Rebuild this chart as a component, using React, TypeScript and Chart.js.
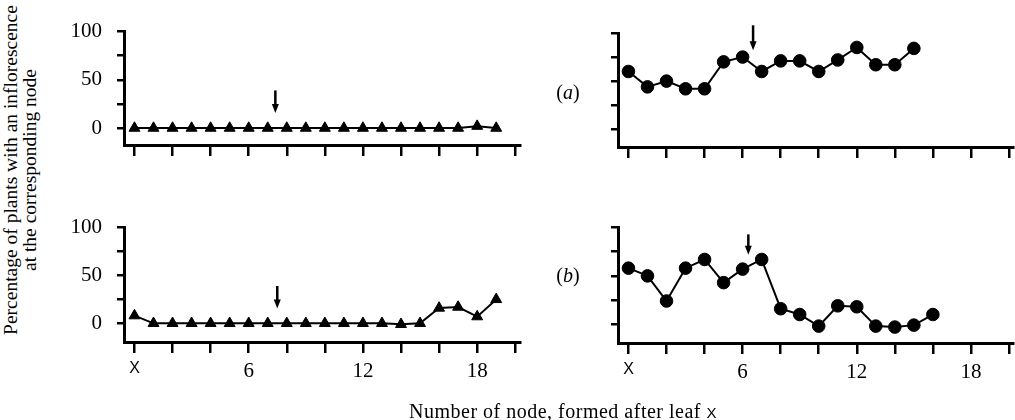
import React, { useEffect, useRef } from "react";
import { Chart, registerables } from "chart.js";

Chart.register(...registerables);

// ---- data ----
const nodesTop = [0, 1, 2, 3, 4, 5, 6, 7, 8, 9, 10, 11, 12, 13, 14, 15, 16, 17, 18, 19];
const panelATriangles = [0, 0, 0, 0, 0, 0, 0, 0, 0, 0, 0, 0, 0, 0, 0, 0, 0, 0, 2, 0];
const panelACircles = [60, 44, 50, 42, 42, 70, 75, 60, 71, 71, 60, 72, 85, 67, 67, 84];
const panelBTriangles = [8, 0, 0, 0, 0, 0, 0, 0, 0, 0, 0, 0, 0, 0, -1, 0, 16, 17, 7, 25];
const panelBCircles = [58, 50, 24, 58, 67, 43, 57, 67, 16, 10, -2, 19, 18, -2, -3, -1, 10];
const xTickValues = [0, 2, 4, 6, 8, 10, 12, 14, 16, 18, 20];
const xTickLabels: Record<number, string> = { 0: "X", 6: "6", 12: "12", 18: "18" };
const yTickValues = [0, 25, 50, 75, 100];
const yTickLabels: Record<number, string> = { 0: "0", 50: "50", 100: "100" };
// arrows: [node position, top value, tip value] per panel (TL, TR, BL, BR)
const arrowX = [7.4, 6.55, 7.5, 6.3];
const arrowTop = [39, 108, 39, 93];
const arrowTip = [15.5, 82, 15.5, 72];

const FONT = "'Liberation Serif', 'Times New Roman', serif";
const SANS = "'Liberation Sans', Arial, sans-serif";

const arrowPlugin = {
  id: "nodeArrow",
  afterDatasetsDraw(chart: any, _args: any, opts: any) {
    if (!opts || opts.x === undefined) return;
    const { ctx } = chart;
    const xs = chart.scales.x;
    const ys = chart.scales.y;
    const px = xs.getPixelForValue(opts.x);
    const pTop = ys.getPixelForValue(opts.top);
    const pTip = ys.getPixelForValue(opts.tip);
    ctx.save();
    ctx.strokeStyle = "#000";
    ctx.fillStyle = "#000";
    ctx.lineWidth = 2.5;
    ctx.beginPath();
    ctx.moveTo(px, pTop);
    ctx.lineTo(px, pTip - 6);
    ctx.stroke();
    ctx.beginPath();
    ctx.moveTo(px - 3.5, pTip - 9);
    ctx.lineTo(px + 3.5, pTip - 9);
    ctx.lineTo(px, pTip);
    ctx.closePath();
    ctx.fill();
    ctx.restore();
  },
};

type PanelProps = {
  values: number[];
  style: "triangle" | "circle";
  left: number;
  top: number;
  width: number;
  height: number;
  padTop: number;
  padRight: number;
  yAxisWidth: number;
  xAxisHeight: number;
  yMin: number;
  showY: boolean;
  showX: boolean;
  arrowIndex: number;
};

function Panel(p: PanelProps) {
  const ref = useRef<HTMLCanvasElement | null>(null);
  useEffect(() => {
    if (!ref.current) return;
    const chart = new Chart(ref.current, {
      type: "line",
      data: {
        datasets: [
          {
            data: p.values.map((v, i) => ({ x: nodesTop[i], y: v })),
            borderColor: "#000",
            backgroundColor: "#000",
            borderWidth: 2,
            pointStyle: p.style,
            pointRadius: p.style === "circle" ? 6.3 : 6.3,
            pointBackgroundColor: "#000",
            pointBorderColor: "#000",
            pointBorderWidth: 1,
            tension: 0,
            clip: false as any,
          },
        ],
      },
      options: {
        animation: false,
        responsive: false,
        devicePixelRatio: 1,
        layout: {
          autoPadding: false,
          padding: { top: p.padTop, right: p.padRight, left: 0, bottom: 0 },
        } as any,
        plugins: {
          legend: { display: false },
          tooltip: { enabled: false },
          nodeArrow: {
            x: arrowX[p.arrowIndex],
            top: arrowTop[p.arrowIndex],
            tip: arrowTip[p.arrowIndex],
          },
        } as any,
        scales: {
          x: {
            type: "linear",
            min: -0.55,
            max: 20.25,
            afterBuildTicks: (axis: any) => {
              axis.ticks = xTickValues.map((v) => ({ value: v }));
            },
            afterFit: (axis: any) => {
              axis.height = p.xAxisHeight;
            },
            border: { display: true, color: "#000", width: 3 },
            grid: {
              drawOnChartArea: false,
              drawTicks: true,
              tickLength: 11,
              tickWidth: 2.5,
              tickColor: "#000",
              color: "#000",
              lineWidth: 2.5,
            },
            ticks: {
              autoSkip: false,
              maxRotation: 0,
              minRotation: 0,
              padding: 6,
              color: "#000",
              font: (ctx: any) =>
                ctx.tick && ctx.tick.value === 0
                  ? { family: SANS, size: 16 }
                  : { family: FONT, size: 21 },
              callback: (v: any) => (p.showX ? xTickLabels[Number(v)] ?? "" : ""),
            },
          },
          y: {
            type: "linear",
            min: p.yMin,
            max: 100,
            afterBuildTicks: (axis: any) => {
              axis.ticks = yTickValues.map((v) => ({ value: v }));
            },
            afterFit: (axis: any) => {
              axis.width = p.yAxisWidth;
            },
            border: { display: true, color: "#000", width: 3 },
            grid: {
              drawOnChartArea: false,
              drawTicks: true,
              tickLength: 7,
              tickWidth: 2.5,
              tickColor: "#000",
              color: "#000",
              lineWidth: 2.5,
            },
            ticks: {
              padding: 15,
              color: "#000",
              font: { family: FONT, size: 21 },
              callback: (v: any) => (p.showY ? yTickLabels[Number(v)] ?? "" : ""),
            },
          },
        },
      },
      plugins: [arrowPlugin],
    });
    return () => chart.destroy();
  }, []);
  return (
    <canvas
      ref={ref}
      width={p.width}
      height={p.height}
      style={{ position: "absolute", left: p.left, top: p.top, width: p.width, height: p.height }}
    />
  );
}

export default function App() {
  const textBase: React.CSSProperties = {
    position: "absolute",
    fontFamily: FONT,
    color: "#000",
    whiteSpace: "nowrap",
  };
  return (
    <div
      style={{
        position: "absolute",
        left: 0,
        top: 0,
        width: 1015,
        height: 420,
        background: "#fff",
        overflow: "hidden",
      }}
    >
      <Panel values={panelATriangles} style="triangle" left={60} top={0} width={462} height={175}
        padTop={31.5} padRight={2} yAxisWidth={64} xAxisHeight={30} yMin={-17.5} showY={true} showX={false} arrowIndex={0} />
      <Panel values={panelACircles} style="circle" left={554} top={0} width={461} height={175}
        padTop={33} padRight={1} yAxisWidth={64} xAxisHeight={28} yMin={-18.5} showY={false} showX={false} arrowIndex={1} />
      <Panel values={panelBTriangles} style="triangle" left={60} top={200} width={462} height={200}
        padTop={25} padRight={2} yAxisWidth={64} xAxisHeight={58} yMin={-19.5} showY={true} showX={true} arrowIndex={2} />
      <Panel values={panelBCircles} style="circle" left={554} top={200} width={461} height={200}
        padTop={25} padRight={1} yAxisWidth={64} xAxisHeight={57} yMin={-19.5} showY={false} showX={true} arrowIndex={3} />

      <div
        style={{
          ...textBase,
          left: 20,
          top: 170,
          fontSize: 19.5,
          lineHeight: "19px",
          textAlign: "center",
          transform: "translate(-50%, -50%) rotate(-90deg)",
        }}
      >
        Percentage of plants with an inflorescence
        <br />
        at the corresponding node
      </div>

      <div
        style={{
          ...textBase,
          left: 563,
          top: 411,
          fontSize: 20,
          letterSpacing: "0.5px",
          transform: "translate(-50%, -50%)",
        }}
      >
        Number of node, formed after leaf <span style={{ fontFamily: SANS, fontSize: 15 }}>X</span>
      </div>

      <div style={{ ...textBase, left: 568, top: 92, fontSize: 20, transform: "translate(-50%, -50%)" }}>
        (<i>a</i>)
      </div>
      <div style={{ ...textBase, left: 568, top: 275, fontSize: 20, transform: "translate(-50%, -50%)" }}>
        (<i>b</i>)
      </div>
    </div>
  );
}
